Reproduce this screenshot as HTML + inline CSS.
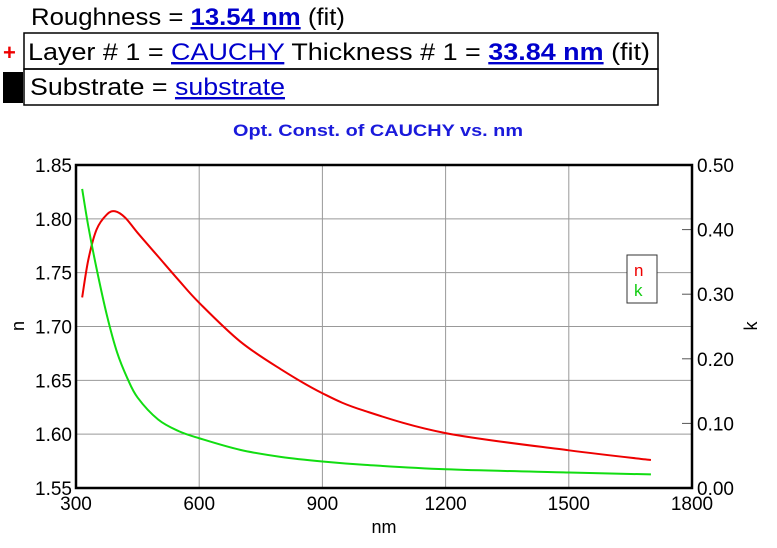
<!DOCTYPE html>
<html><head><meta charset="utf-8"><style>
body{margin:0;background:#fff;width:777px;height:543px;overflow:hidden;font-family:"Liberation Sans",Arial,sans-serif}
</style></head><body>
<svg width="777" height="543" xmlns="http://www.w3.org/2000/svg" font-family="Liberation Sans, Arial, sans-serif" xml:space="preserve">
<g>
<text x="31" y="25" font-size="24" fill="#000" textLength="314" lengthAdjust="spacingAndGlyphs">Roughness = <tspan fill="#0000cc" font-weight="bold" text-decoration="underline">13.54 nm</tspan> (fit)</text>
<text x="3" y="60" font-size="22" font-weight="bold" fill="#e00">+</text>
<rect x="24" y="33" width="634" height="36" fill="none" stroke="#000" stroke-width="1.5"/>
<text x="28" y="60" font-size="24" fill="#000" textLength="622" lengthAdjust="spacingAndGlyphs">Layer # 1 = <tspan fill="#0000cc" text-decoration="underline">CAUCHY</tspan>  Thickness # 1 = <tspan fill="#0000cc" font-weight="bold" text-decoration="underline">33.84 nm</tspan> (fit)</text>
<rect x="3" y="72" width="20" height="31" fill="#000"/>
<rect x="24" y="69" width="634" height="36" fill="none" stroke="#000" stroke-width="1.5"/>
<text x="30" y="95" font-size="24" fill="#000" textLength="255" lengthAdjust="spacingAndGlyphs">Substrate = <tspan fill="#0000cc" text-decoration="underline">substrate</tspan></text>
</g>
<text x="233" y="136" font-size="17" font-weight="bold" fill="#1a1adb" textLength="290" lengthAdjust="spacingAndGlyphs">Opt. Const. of CAUCHY vs. nm</text>
<g id="chart"></g>
</svg>
<script>
const xTicks=[300,600,900,1200,1500,1800];
const nTicks=[1.55,1.60,1.65,1.70,1.75,1.80,1.85];
const kTicks=[0.00,0.10,0.20,0.30,0.40,0.50];
const wl=[315,330,350,375,395,420,450,500,550,600,700,800,900,1000,1200,1500,1700];
const nVals=[1.727,1.762,1.790,1.804,1.807,1.801,1.787,1.765,1.743,1.722,1.686,1.660,1.638,1.622,1.601,1.585,1.576];
const wlK=[315,330,350,375,400,425,450,500,550,600,700,800,900,1000,1200,1500,1700];
const kVals=[0.463,0.405,0.340,0.268,0.210,0.170,0.140,0.106,0.088,0.077,0.059,0.048,0.041,0.036,0.029,0.024,0.021];
const L=76,R=692,T=165,B=488,NS="http://www.w3.org/2000/svg";
const X=v=>L+(v-300)/1500*(R-L);
const YN=v=>B-(v-1.55)/0.30*(B-T);
const YK=v=>B-v/0.5*(B-T);
const g=document.getElementById('chart');
function mk(t,a,txt){const e=document.createElementNS(NS,t);for(const k in a)e.setAttribute(k,a[k]);if(txt!==undefined)e.textContent=txt;g.appendChild(e);return e;}
function smooth(p){let d='M'+p[0][0]+','+p[0][1];for(let i=0;i<p.length-1;i++){const p0=p[i-1]||p[i],p1=p[i],p2=p[i+1],p3=p[i+2]||p2;
 const c1x=p1[0]+(p2[0]-p0[0])/6,c1y=p1[1]+(p2[1]-p0[1])/6,c2x=p2[0]-(p3[0]-p1[0])/6,c2y=p2[1]-(p3[1]-p1[1])/6;
 d+=' C'+c1x+','+c1y+' '+c2x+','+c2y+' '+p2[0]+','+p2[1];}return d;}
xTicks.forEach(v=>{const x=X(v);
 if(v>300&&v<1800){const e=mk('line',{x1:x,y1:T,x2:x,y2:B,stroke:'#999','stroke-width':1});
 
 }
 const t=mk('text',{x:x,y:B+22,'font-size':19,'text-anchor':'middle',fill:'#000'},String(v));
 
 });
nTicks.forEach(v=>{const y=YN(v);
 if(v>1.55&&v<1.85){const e=mk('line',{x1:L,y1:y,x2:R,y2:y,stroke:'#999','stroke-width':1});
 
 }
 const t=mk('text',{x:L-4,y:y+7,'font-size':19,'text-anchor':'end',fill:'#000'},v.toFixed(2));
 
 });
kTicks.forEach(v=>{const y=YK(v);
 const e=mk('line',{x1:R-10,y1:y,x2:R,y2:y,stroke:'#555','stroke-width':1});
 
 
 const t=mk('text',{x:R+5,y:y+7,'font-size':19,fill:'#000'},v.toFixed(2));
 
 });
const fr=mk('rect',{x:L,y:T,width:R-L,height:B-T,fill:'none',stroke:'#000','stroke-width':2.5});


const pn=mk('path',{d:smooth(wl.map((w,i)=>[X(w),YN(nVals[i])])),fill:'none',stroke:'#e00','stroke-width':2});


const pk=mk('path',{d:smooth(wlK.map((w,i)=>[X(w),YK(kVals[i])])),fill:'none',stroke:'#11dd11','stroke-width':2});


const lb=mk('rect',{x:627,y:255,width:30,height:48,fill:'#fff',stroke:'#333','stroke-width':1});


const l1=mk('text',{x:634,y:276,'font-size':17,fill:'#e00'},'n');


const l2=mk('text',{x:634,y:296,'font-size':17,fill:'#11cc11'},'k');


const xt=mk('text',{x:384,y:533,'font-size':18,'text-anchor':'middle',fill:'#000'},'nm');


const yt=mk('text',{x:0,y:0,'font-size':18,'text-anchor':'middle',fill:'#000',transform:'translate(24,326) rotate(-90)'},'n');


const kt=mk('text',{x:0,y:0,'font-size':18,'text-anchor':'middle',fill:'#000',transform:'translate(757,326) rotate(-90)'},'k');


</script>
</body></html>
